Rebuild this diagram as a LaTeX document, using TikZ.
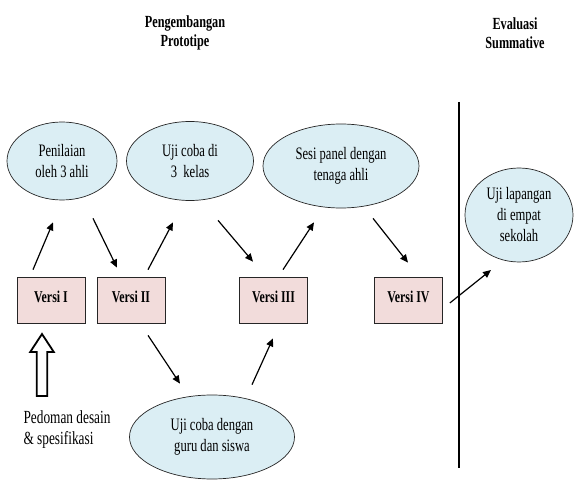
\documentclass[tikz,border=0pt]{standalone}
\usepackage{fontspec}
\setmainfont{Liberation Serif}[FakeStretch=0.72]
\usetikzlibrary{arrows.meta,shapes.geometric}
\definecolor{ellfill}{HTML}{DBEEF4}
\definecolor{boxfill}{HTML}{F2DCDB}
\begin{document}
\begin{tikzpicture}[x=1pt,y=-1pt,
  ell/.style={ellipse, draw=black!85, line width=0.7pt, fill=ellfill, inner sep=0pt, align=center, font=\fontsize{17.5}{21}\selectfont},
  vbox/.style={rectangle, draw=black!85, line width=0.7pt, fill=boxfill, minimum width=68pt, minimum height=46pt, inner sep=0pt, text depth=6pt, font=\bfseries\fontsize{16.5}{20}\selectfont},
  arr/.style={line width=1.2pt, -{Triangle[length=8pt,width=7pt]}},
  head/.style={font=\bfseries\fontsize{17}{18.5}\selectfont, align=center},
  plain/.style={font=\fontsize{18.5}{21}\selectfont, align=left}]
\useasboundingbox (0,0) rectangle (574,481);

% headings
\node[head] (h1) at (185,33) {Pengembangan\\Prototipe};
\node[head] (h2) at (515,33) {Evaluasi\\Summative};

% ellipses
\node[ell, minimum width=110pt, minimum height=78pt] (e1) at (62,161) {Penilaian\\oleh 3 ahli};
\node[ell, minimum width=127pt, minimum height=79pt] (e2) at (190,161) {Uji coba di\\3\ \ kelas};
\node[ell, minimum width=156pt, minimum height=84pt] (e3) at (341,166) {Sesi panel dengan\\tenaga ahli};
\node[ell, minimum width=108pt, minimum height=94pt] (e4) at (519,215) {Uji lapangan\\di empat\\sekolah};
\node[ell, minimum width=165pt, minimum height=84pt] (e5) at (212,437) {Uji coba dengan\\guru dan siswa};

% boxes
\node[vbox] (v1) at (51,300) {Versi I};
\node[vbox] (v2) at (131,300) {Versi II};
\node[vbox] (v3) at (273.5,300) {Versi III};
\node[vbox] (v4) at (408.5,300) {Versi IV};

% design guideline text
\node[plain, anchor=west] (ped) at (20,430) {Pedoman desain\\\& spesifikasi};

% hollow arrow
\coordinate (ha) at (42,396);
\draw[line width=1.8pt, fill=white]
  ([shift={(-5.3,0)}]ha) -- ([shift={(5.3,0)}]ha) -- ([shift={(5.3,-44)}]ha) -- ([shift={(11.8,-44)}]ha)
  -- ([shift={(0,-62)}]ha) -- ([shift={(-11.8,-44)}]ha) -- ([shift={(-5.3,-44)}]ha) -- cycle;

% divider
\coordinate (ltop) at (458.5,102);
\coordinate (lbot) at (458.5,468);
\draw[line width=2pt] (ltop) -- (lbot);

% connectors
\draw[arr] ([shift={(-18,-7)}]v1.north) -- ([shift={(-9,22)}]e1.south);
\draw[arr] ([shift={(31,18)}]e1.south) -- ([shift={(-14,-9)}]v2.north);
\draw[arr] ([shift={(17,-7)}]v2.north) -- ([shift={(-17,21.5)}]e2.south);
\draw[arr] ([shift={(28,19.5)}]e2.south) -- ([shift={(-20.5,-15)}]v3.north);
\draw[arr] ([shift={(9.5,-7)}]v3.north) -- ([shift={(-27,14)}]e3.south);
\draw[arr] ([shift={(32,10)}]e3.south) -- ([shift={(-0.5,-14)}]v4.north);
\draw[arr] ([shift={(7,3)}]v4.east) -- ([shift={(-28,55)}]e4.center);
\draw[arr] ([shift={(17,12)}]v2.south) -- ([shift={(-32,-11)}]e5.north);
\draw[arr] ([shift={(40,-10)}]e5.north) -- ([shift={(-0.5,15)}]v3.south);
\end{tikzpicture}
\end{document}
